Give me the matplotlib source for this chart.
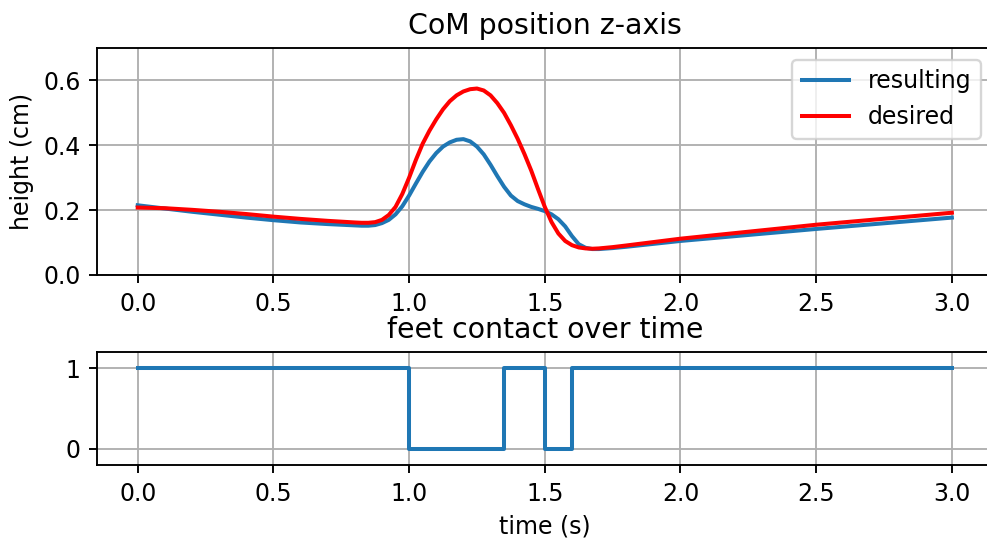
import matplotlib
matplotlib.use("Agg")
import matplotlib.pyplot as plt

# CoM height (z) over time
t_res = [0.0, 0.1, 0.2, 0.3, 0.4, 0.5, 0.6, 0.7, 0.8, 0.825, 0.85, 0.875, 0.9,
         0.925, 0.95, 0.975, 1.0, 1.025, 1.05, 1.075, 1.1, 1.125, 1.15, 1.175,
         1.2, 1.225, 1.25, 1.275, 1.3, 1.325, 1.35, 1.375, 1.4, 1.425, 1.45,
         1.475, 1.5, 1.525, 1.55, 1.575, 1.6, 1.625, 1.65, 1.675, 1.7, 1.75,
         1.8, 2.0, 2.5, 3.0]
z_res = [0.215, 0.205, 0.195, 0.186, 0.177, 0.169, 0.162, 0.157, 0.153, 0.152,
         0.152, 0.154, 0.160, 0.170, 0.187, 0.212, 0.245, 0.282, 0.318, 0.350,
         0.376, 0.396, 0.409, 0.417, 0.419, 0.412, 0.396, 0.372, 0.340, 0.305,
         0.272, 0.245, 0.228, 0.218, 0.210, 0.204, 0.197, 0.187, 0.172, 0.150,
         0.120, 0.095, 0.084, 0.080, 0.080, 0.083, 0.087, 0.105, 0.142, 0.177]

t_des = [0.0, 0.1, 0.2, 0.3, 0.4, 0.5, 0.6, 0.7, 0.8, 0.825, 0.85, 0.875, 0.9,
         0.925, 0.95, 0.975, 1.0, 1.025, 1.05, 1.075, 1.1, 1.125, 1.15, 1.175,
         1.2, 1.225, 1.25, 1.275, 1.3, 1.325, 1.35, 1.375, 1.4, 1.425, 1.45,
         1.475, 1.5, 1.525, 1.55, 1.575, 1.6, 1.625, 1.65, 1.675, 1.7, 1.75,
         1.8, 2.0, 2.5, 3.0]
z_des = [0.208, 0.206, 0.201, 0.195, 0.188, 0.180, 0.173, 0.167, 0.162, 0.161,
         0.161, 0.163, 0.170, 0.185, 0.210, 0.250, 0.300, 0.355, 0.405, 0.445,
         0.480, 0.511, 0.536, 0.554, 0.566, 0.573, 0.575, 0.569, 0.554, 0.530,
         0.500, 0.462, 0.420, 0.373, 0.322, 0.265, 0.210, 0.163, 0.128, 0.105,
         0.092, 0.085, 0.082, 0.081, 0.082, 0.086, 0.091, 0.112, 0.155, 0.192]

# feet contact (1 = contact)
t_contact = [0.0, 1.0, 1.35, 1.5, 1.6, 3.0]
contact = [1, 0, 1, 0, 1, 1]

W, H = 987, 538
fig = plt.figure(figsize=(W / 170, H / 170), dpi=170)

# axes placed in pixel terms (the original is cropped at the right/bottom)
ax1 = fig.add_axes([97 / W, (H - 275) / H, (992.6 - 97) / W, 227 / H])
ax2 = fig.add_axes([97 / W, (H - 465) / H, (992.6 - 97) / W, 113 / H])

ax1.plot(t_res, z_res, color="#1f77b4", lw=1.7, label="resulting")
ax1.plot(t_des, z_des, color="red", lw=1.7, label="desired")
ax1.set_title("CoM position z-axis")
ax1.set_ylabel("height (cm)")
ax1.set_xlim(-0.15, 3.15)
ax1.set_ylim(0, 0.7)
ax1.grid(True)
ax1.legend(loc="upper right")

ax2.plot(t_contact, contact, color="#1f77b4", lw=1.7, drawstyle="steps-post")
ax2.set_title("feet contact over time")
ax2.set_xlabel("time (s)")
ax2.set_xlim(-0.15, 3.15)
ax2.set_ylim(-0.2, 1.2)
ax2.set_yticks([0, 1])
ax2.grid(True)

fig.savefig("out.png", dpi=170)
